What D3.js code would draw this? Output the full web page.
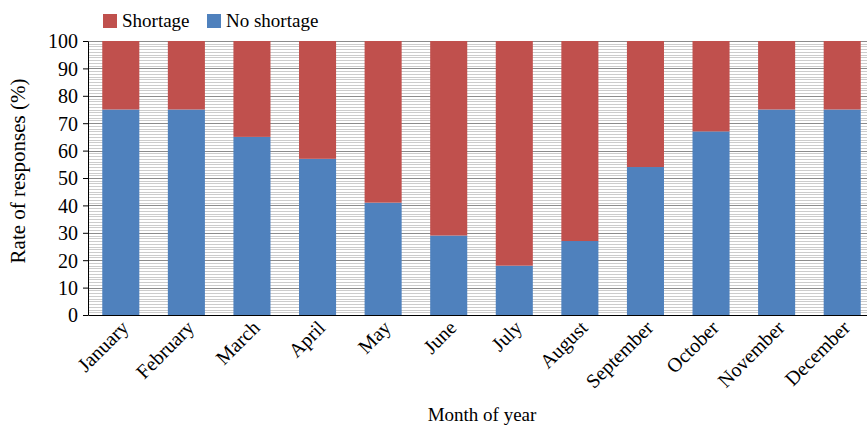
<!DOCTYPE html>
<html>
<head>
<meta charset="utf-8">
<script src="https://cdn.jsdelivr.net/npm/d3@7"></script>
<style>
  body { margin: 0; background: #fff; }
  svg text { font-family: "Liberation Serif", "Times New Roman", serif; fill: #000; }
</style>
</head>
<body>
<div id="chart"></div>
<script>
var months = ["January", "February", "March", "April", "May", "June",
  "July", "August", "September", "October", "November", "December"];
var noShortage = [75, 75, 65, 57, 41, 29, 18, 27, 54, 67, 75, 75];
var shortage = noShortage.map(v => 100 - v);
var yTicks = [0, 10, 20, 30, 40, 50, 60, 70, 80, 90, 100];

var width = 867, height = 426;
var margin = {top: 41, left: 88, bottom: 111};
var plotW = 787;

var svg = d3.select("#chart").append("svg")
  .attr("width", width)
  .attr("height", height);

var x = d3.scaleBand()
  .domain(months)
  .range([margin.left, margin.left + plotW])
  .paddingInner(0.435)
  .paddingOuter(0.2175);

var y = d3.scaleLinear()
  .domain([0, 100])
  .range([height - margin.bottom, margin.top]);

// minor + major gridlines
svg.append("g")
  .selectAll("line")
  .data(d3.range(1, 101))
  .enter().append("line")
  .attr("x1", margin.left)
  .attr("x2", margin.left + plotW)
  .attr("y1", d => Math.round(y(d)) + 0.5)
  .attr("y2", d => Math.round(y(d)) + 0.5)
  .attr("stroke", d => d % 10 === 0 ? "#8c8c8c" : "#cccccc")
  .attr("stroke-width", 1);

var stack = months.map((m, i) => ({m: m, no: noShortage[i], yes: shortage[i]}));

svg.append("g").selectAll("rect")
  .data(stack)
  .enter().append("rect")
  .attr("x", d => x(d.m))
  .attr("width", x.bandwidth())
  .attr("y", d => y(d.no))
  .attr("height", d => y(0) - y(d.no))
  .attr("fill", "#4F81BD");

svg.append("g").selectAll("rect")
  .data(stack)
  .enter().append("rect")
  .attr("x", d => x(d.m))
  .attr("width", x.bandwidth())
  .attr("y", d => y(100))
  .attr("height", d => y(d.no) - y(100))
  .attr("fill", "#C0504D");

// axes
var yAxis = svg.append("g")
  .attr("transform", `translate(${margin.left},0)`)
  .call(d3.axisLeft(y).tickValues(yTicks).tickSize(5).tickPadding(5).tickSizeOuter(0))
  .attr("font-family", null)
  .attr("font-size", 20);
yAxis.selectAll("text").attr("dy", "0.34em");
yAxis.selectAll("line, path").attr("stroke", "#000");

var xAxis = svg.append("g")
  .attr("transform", `translate(0,${y(0)})`)
  .call(d3.axisBottom(x).tickSize(0).tickSizeOuter(0).tickPadding(0))
  .attr("font-family", null)
  .attr("font-size", 20);
xAxis.select("path").attr("stroke", "#000");
xAxis.selectAll("text")
  .attr("text-anchor", "end")
  .attr("dy", null)
  .attr("transform", "translate(9,14) rotate(-45)");

// axis titles
svg.append("text")
  .attr("x", 482)
  .attr("y", 421)
  .attr("text-anchor", "middle")
  .attr("font-size", 19)
  .text("Month of year");

svg.append("text")
  .attr("transform", "translate(25,171) rotate(-90)")
  .attr("text-anchor", "middle")
  .attr("font-size", 21)
  .text("Rate of responses (%)");

// legend
var legend = [{name: "Shortage", color: "#C0504D", x: 103}, {name: "No shortage", color: "#4F81BD", x: 207}];
var lg = svg.append("g").selectAll("g")
  .data(legend)
  .enter().append("g")
  .attr("transform", d => `translate(${d.x},14)`);
lg.append("rect").attr("width", 14).attr("height", 14).attr("fill", d => d.color);
lg.append("text").attr("x", 19).attr("y", 13).attr("font-size", 19).text(d => d.name);
</script>
</body>
</html>
